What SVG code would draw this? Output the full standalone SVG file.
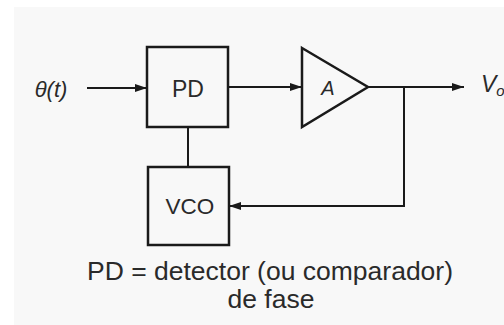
<svg xmlns="http://www.w3.org/2000/svg" width="504" height="325" viewBox="0 0 504 325">
<defs>
<style>
.box{fill:none;stroke:#1a1a1a;stroke-width:2.5}
.ln{fill:none;stroke:#1a1a1a;stroke-width:2}
.t{font-family:"Liberation Sans",Arial,sans-serif;fill:#2a2a2a}
.i{font-style:italic}
</style>
<marker id="ah" markerWidth="12" markerHeight="8" refX="12" refY="4" orient="auto" markerUnits="userSpaceOnUse">
<path d="M0,0 L12,4 L0,8 Z" fill="#1a1a1a"/>
</marker>
</defs>
<rect width="504" height="325" fill="#ffffff"/>
<rect x="14" y="7" width="490" height="318" fill="#f8f8f8"/>
<g id="connectors">
<line class="ln" x1="87" y1="88" x2="147" y2="88" marker-end="url(#ah)"/>
<line class="ln" x1="228" y1="87" x2="302" y2="87" marker-end="url(#ah)"/>
<line class="ln" x1="368" y1="87" x2="464" y2="87" marker-end="url(#ah)"/>
<line class="ln" x1="188" y1="127" x2="188" y2="167"/>
<polyline class="ln" points="404,87 404,206 229,206" marker-end="url(#ah)"/>
</g>
<g id="input">
<text class="t i" x="51" y="97" font-size="22" text-anchor="middle">θ(t)</text>
</g>
<g id="pd">
<rect class="box" x="147" y="47" width="81" height="80"/>
<text class="t" x="188" y="97" font-size="23" text-anchor="middle">PD</text>
</g>
<g id="amp">
<polygon class="box" points="302,48 368,87 302,127"/>
<text class="t i" x="328" y="95" font-size="20" text-anchor="middle">A</text>
</g>
<g id="output">
<text class="t i" x="481" y="92" font-size="23">V<tspan font-size="15" dy="4">o</tspan></text>
</g>
<g id="vco">
<rect class="box" x="148" y="167" width="81" height="78"/>
<text class="t" x="190" y="214" font-size="22.5" text-anchor="middle">VCO</text>
</g>
<g id="caption">
<text class="t" x="270" y="280" font-size="26.5" text-anchor="middle">PD = detector (ou comparador)</text>
<text class="t" x="271" y="308" font-size="26.5" text-anchor="middle">de fase</text>
</g>
</svg>
